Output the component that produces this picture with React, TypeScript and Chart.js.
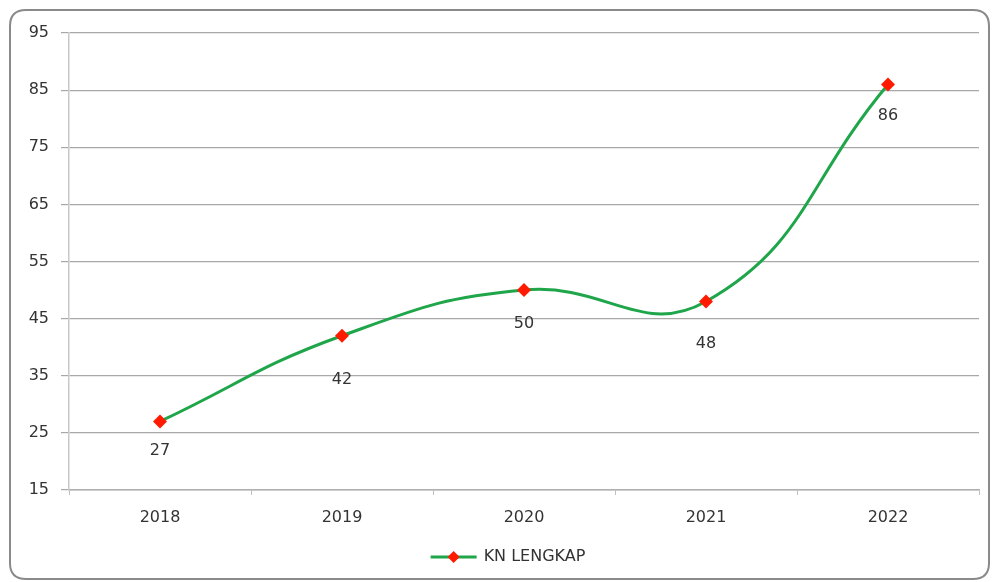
import React, { useEffect, useRef } from "react";
import { Chart, registerables } from "chart.js";

Chart.register(...registerables);

const categories = ["2018", "2019", "2020", "2021", "2022"];
const seriesName = "KN LENGKAP";
const values = [27, 42, 50, 48, 86];
const yMin = 15;
const yMax = 95;
const yStep = 10;

const FONT = "'DejaVu Sans', sans-serif";
// label offsets below each point (style)
const labelOffsets = [29, 44, 34, 42, 31];

const framePlugin = {
  id: "frame",
  beforeDraw(chart: any) {
    const ctx = chart.ctx;
    ctx.save();
    ctx.fillStyle = "#ffffff";
    ctx.fillRect(0, 0, chart.width, chart.height);
    const x = 10, y = 10, w = chart.width - 16, h = chart.height - 13, r = 16;
    ctx.beginPath();
    ctx.moveTo(x + r, y);
    ctx.lineTo(x + w - r, y);
    ctx.quadraticCurveTo(x + w, y, x + w, y + r);
    ctx.lineTo(x + w, y + h - r);
    ctx.quadraticCurveTo(x + w, y + h, x + w - r, y + h);
    ctx.lineTo(x + r, y + h);
    ctx.quadraticCurveTo(x, y + h, x, y + h - r);
    ctx.lineTo(x, y + r);
    ctx.quadraticCurveTo(x, y, x + r, y);
    ctx.closePath();
    ctx.strokeStyle = "#8a8a8a";
    ctx.lineWidth = 2;
    ctx.stroke();
    ctx.restore();
  },
};

const labelsPlugin = {
  id: "valueLabels",
  afterDatasetsDraw(chart: any) {
    const ctx = chart.ctx;
    const meta = chart.getDatasetMeta(0);
    ctx.save();
    ctx.font = `16px ${FONT}`;
    ctx.fillStyle = "#333333";
    ctx.textAlign = "center";
    ctx.textBaseline = "middle";
    meta.data.forEach((pt: any, i: number) => {
      ctx.fillText(String(values[i]), pt.x, pt.y + labelOffsets[i]);
    });
    ctx.restore();
  },
};

const legendPlugin = {
  id: "customLegend",
  afterDraw(chart: any) {
    const ctx = chart.ctx;
    const y = 557;
    ctx.save();
    ctx.font = `16px ${FONT}`;
    const tw = ctx.measureText(seriesName).width;
    const lineW = 46;
    const gap = 7;
    const total = lineW + gap + tw;
    const start = 508 - total / 2;
    ctx.strokeStyle = "#1fa54a";
    ctx.lineWidth = 3;
    ctx.beginPath();
    ctx.moveTo(start, y);
    ctx.lineTo(start + lineW, y);
    ctx.stroke();
    const cx = start + lineW / 2;
    ctx.fillStyle = "#ff1a00";
    ctx.beginPath();
    ctx.moveTo(cx, y - 6);
    ctx.lineTo(cx + 6, y);
    ctx.lineTo(cx, y + 6);
    ctx.lineTo(cx - 6, y);
    ctx.closePath();
    ctx.fill();
    ctx.fillStyle = "#333333";
    ctx.textAlign = "left";
    ctx.textBaseline = "middle";
    ctx.fillText(seriesName, start + lineW + gap, y);
    ctx.restore();
  },
};

export default function App() {
  const ref = useRef<HTMLCanvasElement>(null);
  useEffect(() => {
    if (!ref.current) return;
    const chart = new Chart(ref.current, {
      type: "line",
      data: {
        labels: categories,
        datasets: [
          {
            label: seriesName,
            data: values,
            borderColor: "#1fa54a",
            borderWidth: 3,
            tension: 0.45,
            pointStyle: "rectRot",
            pointRadius: 7,
            pointBackgroundColor: "#ff1a00",
            pointBorderColor: "#ff1a00",
            pointBorderWidth: 0,
          },
        ],
      },
      options: {
        animation: false,
        responsive: false,
        layout: { padding: { top: 33, right: 16, bottom: 42, left: 0 } },
        plugins: { legend: { display: false }, tooltip: { enabled: false } },
        scales: {
          x: {
            offset: true,
            grid: {
              offset: true,
              drawOnChartArea: false,
              color: "#c0c0c0",
              tickLength: 5,
            },
            border: { color: "#b0b0b0", width: 1.5 },
            ticks: { color: "#333333", font: { family: FONT, size: 16 }, padding: 13 },
            afterFit: (s: any) => {
              s.height = 50;
            },
          },
          y: {
            min: yMin,
            max: yMax,
            ticks: {
              stepSize: yStep,
              color: "#333333",
              font: { family: FONT, size: 16 },
              padding: 12,
            },
            grid: { color: "#a8a8a8", lineWidth: 1.2, tickLength: 8 },
            border: { color: "#c8c8c8", width: 1.5 },
            afterFit: (s: any) => {
              s.width = 69;
            },
          },
        },
      },
      plugins: [framePlugin, labelsPlugin, legendPlugin],
    });
    return () => chart.destroy();
  }, []);
  return (
    <div style={{ position: "absolute", left: 0, top: 0, width: 995, height: 582 }}>
      <canvas ref={ref} width={995} height={582} style={{ display: "block" }} />
    </div>
  );
}
